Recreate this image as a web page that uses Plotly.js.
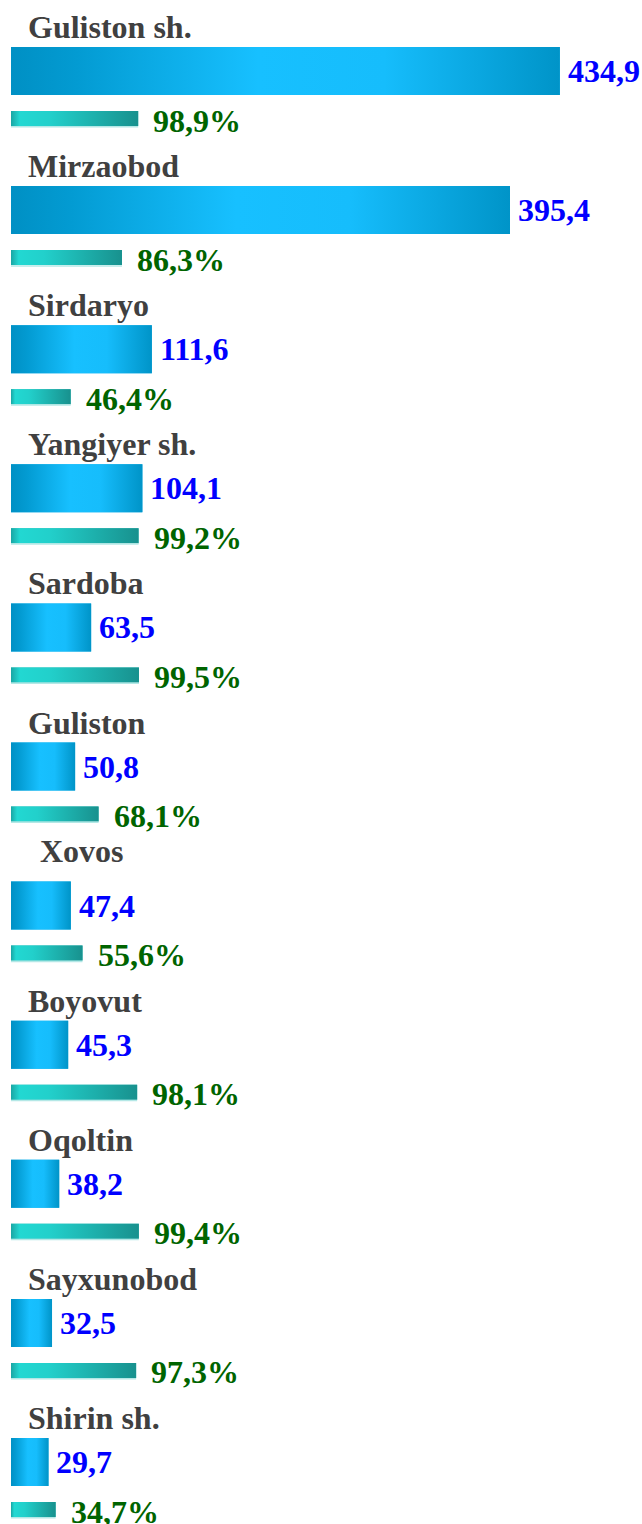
<!DOCTYPE html>
<html>
<head>
<meta charset="utf-8">
<script src="https://cdn.plot.ly/plotly-3.0.1.min.js"></script>
<style>html,body{margin:0;padding:0;background:#fff;}#chart{width:642px;height:1524px;}</style>
</head>
<body>
<div id="chart"></div>
<script>
const categories = ["Guliston sh.","Mirzaobod","Sirdaryo","Yangiyer sh.","Sardoba","Guliston","Xovos","Boyovut","Oqoltin","Sayxunobod","Shirin sh."];
const values = [434.9,395.4,111.6,104.1,63.5,50.8,47.4,45.3,38.2,32.5,29.7];
const percents = [98.9,86.3,46.4,99.2,99.5,68.1,55.6,98.1,99.4,97.3,34.7];

// layout geometry (pixel units on the y axis)
const PITCH = 139.1, LABEL_Y = 27, BAR_Y = 71, BAR_H = 48, PBAR_Y = 118.5, PBAR_H = 15;
const FONT = "'Liberation Serif', 'Times New Roman', serif";
const fmt = v => v.toFixed(1).replace('.', ',');

const blueScale = [[0,'#0090c4'],[0.12,'#039bd2'],[0.45,'#17c0ff'],[0.68,'#16bdfc'],[1,'#0094c8']];
const tealScale = [[0,'#1aa6a4'],[0.07,'#22d8d2'],[0.3,'#22d0cb'],[1,'#18918e']];

const yBar = categories.map((c,i)=> i*PITCH + BAR_Y);
const yPBar = categories.map((c,i)=> i*PITCH + PBAR_Y);

const traces = [
  {type:'bar', orientation:'h', x: values, y: yBar, width: BAR_H, marker:{color:'#10b0ea'}, hoverinfo:'skip', showlegend:false},
  {type:'bar', orientation:'h', x: percents, y: yPBar, width: PBAR_H, xaxis:'x2', marker:{color:'#20b8b4'}, hoverinfo:'skip', showlegend:false}
];
// gradient skins over each bar
values.forEach((v,i)=>{
  const t = yBar[i]-BAR_H/2, b = yBar[i]+BAR_H/2;
  traces.push({type:'scatter', mode:'lines', x:[0,v,v,0,0], y:[t,t,b,b,t], fill:'toself',
    line:{width:0}, fillgradient:{type:'horizontal', colorscale: blueScale}, hoverinfo:'skip', showlegend:false});
});
percents.forEach((p,i)=>{
  const t = yPBar[i]-PBAR_H/2, b = yPBar[i]+PBAR_H/2;
  traces.push({type:'scatter', mode:'lines', x:[0,p,p,0,0], y:[t,t,b,b,t], fill:'toself', xaxis:'x2',
    line:{width:0}, fillgradient:{type:'horizontal', colorscale: tealScale}, hoverinfo:'skip', showlegend:false});
  // soft light edge under the thin bar
  traces.push({type:'scatter', mode:'lines', x:[0,p], y:[b+0.8,b+0.8], xaxis:'x2',
    line:{width:1.5, color:'#b4e8e6'}, hoverinfo:'skip', showlegend:false});
});

const annotations = [];
categories.forEach((c,i)=>{
  const special = c === 'Xovos';
  annotations.push({xref:'x', yref:'y', x:0, y: i*PITCH + LABEL_Y, text:c, showarrow:false,
    xanchor:'left', yanchor:'middle', xshift: special ? 27 : 15, yshift: special ? 11 : 0,
    font:{family:FONT, size:32, color:'#404040', weight:'bold'}});
  annotations.push({xref:'x', yref:'y', x:values[i], y:yBar[i], text:fmt(values[i]), showarrow:false,
    xanchor:'left', yanchor:'middle', xshift:6, font:{family:FONT, size:32, color:'#0000ff', weight:'bold'}});
  annotations.push({xref:'x2', yref:'y', x:percents[i], y:yPBar[i], text:fmt(percents[i])+'%', showarrow:false,
    xanchor:'left', yanchor:'middle', xshift:13, yshift:-2, font:{family:FONT, size:32, color:'#006400', weight:'bold'}});
});

const layout = {
  width:642, height:1524, margin:{l:11, r:0, t:0, b:0},
  paper_bgcolor:'#ffffff', plot_bgcolor:'#ffffff',
  barmode:'overlay', showlegend:false,
  xaxis:{range:[0,500], visible:false, fixedrange:true},
  xaxis2:{range:[0,490.7], overlaying:'x', anchor:'y', visible:false, fixedrange:true},
  yaxis:{range:[1524,0], visible:false, fixedrange:true},
  annotations: annotations
};
Plotly.newPlot('chart', traces, layout, {displayModeBar:false, staticPlot:true});
</script>
</body>
</html>
